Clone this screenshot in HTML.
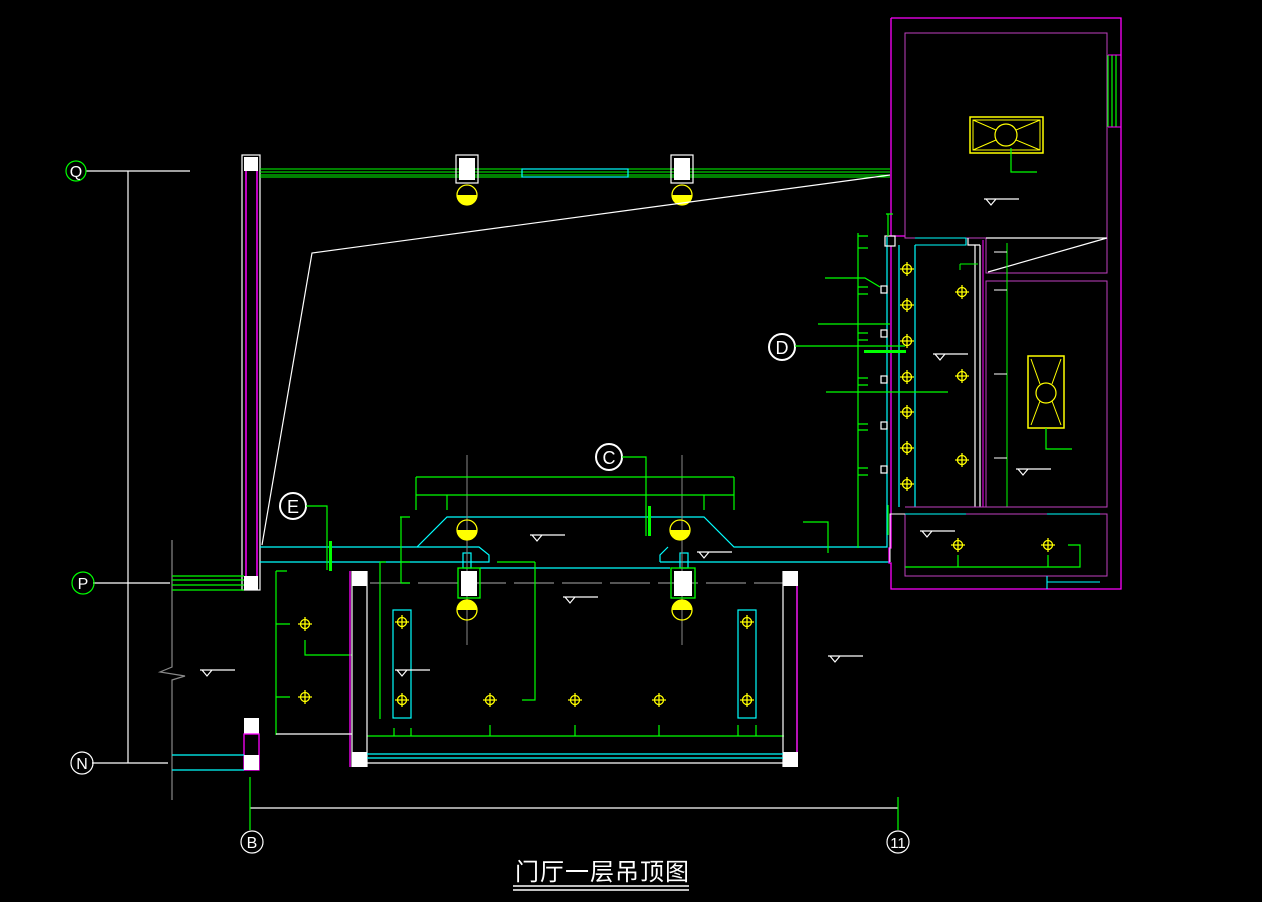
<!DOCTYPE html>
<html><head><meta charset="utf-8"><style>
html,body{margin:0;padding:0;background:#000;}
svg{display:block;}
text{font-family:"Liberation Sans","Noto Sans CJK SC",sans-serif;fill:#fff;}
</style></head><body>
<svg width="1262" height="902" viewBox="0 0 1262 902" xmlns="http://www.w3.org/2000/svg">
<rect width="1262" height="902" fill="#000"/>
<defs>
<g id="xh"><circle r="4.5" fill="none" stroke="#ff0" stroke-width="1.3"/><path d="M-7 0H7M0-7V7" stroke="#ff0" stroke-width="1.3"/></g>
<g id="hc"><circle r="10" fill="none" stroke="#ff0" stroke-width="1.3"/><path d="M-10 0A10 10 0 0 0 10 0Z" fill="#ff0"/></g>
<g id="hc2"><circle r="10" fill="none" stroke="#ff0" stroke-width="1.3"/><path d="M-10 0A10 10 0 0 1 10 0Z" fill="#ff0"/></g>
<g id="lv"><path d="M0 0H35M2 0L7 6L12 0" fill="none" stroke="#fff" stroke-width="1.2"/></g>
</defs>

<!-- axis lines -->
<g stroke="#fff" stroke-width="1.2" fill="none">
<path d="M86 171H190M128 171V763M93 583H170M92 763H168"/>
<path d="M250 808H898"/>
</g>
<path d="M172 540V667L160 672L185 676L172 680V800" stroke="#888" stroke-width="1.2" fill="none"/>
<circle cx="76" cy="171" r="10" fill="none" stroke="#0f0" stroke-width="1.2"/>
<text x="76" y="177" font-size="16" text-anchor="middle" font-family="Liberation Serif">Q</text>
<circle cx="83" cy="583" r="11" fill="none" stroke="#0f0" stroke-width="1.2"/>
<text x="83" y="589" font-size="16" text-anchor="middle" font-family="Liberation Serif">P</text>
<circle cx="82" cy="763" r="11" fill="none" stroke="#fff" stroke-width="1.2"/>
<text x="82" y="769" font-size="16" text-anchor="middle" font-family="Liberation Serif">N</text>
<circle cx="252" cy="842" r="11" fill="none" stroke="#fff" stroke-width="1.2"/>
<text x="252" y="848" font-size="16" text-anchor="middle" font-family="Liberation Serif">B</text>
<circle cx="898" cy="842" r="11" fill="none" stroke="#fff" stroke-width="1.2"/>
<text x="898" y="848" font-size="15" text-anchor="middle" font-family="Liberation Serif">11</text>
<path d="M250 777V830M898 797V830" stroke="#0f0" stroke-width="1.2"/>

<!-- left wall -->
<rect x="242" y="155" width="18" height="435" fill="none" stroke="#fff" stroke-width="1.2"/>
<path d="M246 160V590M257 160V590" stroke="#f0f" stroke-width="1.5"/>
<rect x="244" y="157" width="14" height="14" fill="#fff"/>
<rect x="244" y="576" width="14" height="14" fill="#fff"/>
<path d="M172 576H244M172 580H244M172 585H244M172 590H244" stroke="#0f0" stroke-width="1.2"/>
<rect x="244" y="718" width="15" height="16" fill="#fff"/>
<rect x="244" y="734" width="15" height="36" fill="none" stroke="#f0f" stroke-width="1.3"/>
<rect x="244" y="755" width="15" height="15" fill="#fff"/>
<path d="M172 755H244M172 770H244" stroke="#0ff" stroke-width="1.2"/>

<!-- top wall -->
<path d="M260 169H890M260 172H890M260 175H890M260 177H890" stroke="#0f0" stroke-width="1.1"/>
<rect x="522" y="169" width="106" height="8" fill="none" stroke="#0ff" stroke-width="1.2"/>
<rect x="456" y="155" width="22" height="28" fill="none" stroke="#fff" stroke-width="1.2"/>
<rect x="459" y="158" width="16" height="22" fill="#fff"/>
<rect x="671" y="155" width="22" height="28" fill="none" stroke="#fff" stroke-width="1.2"/>
<rect x="674" y="158" width="16" height="22" fill="#fff"/>
<use href="#hc" x="467" y="195"/><use href="#hc" x="682" y="195"/>

<!-- diagonal glass -->
<path d="M890 175L312 253L262 545" stroke="#fff" stroke-width="1.2" fill="none"/>

<!-- cyan beams -->
<path d="M260 547H417L447 517H704L734 547H887V237" stroke="#0ff" stroke-width="1.2" fill="none"/>
<path d="M260 562H489V555L479 547H417" stroke="#0ff" stroke-width="1.2" fill="none"/>
<path d="M660 562H890" stroke="#0ff" stroke-width="1.2" fill="none"/>
<path d="M660 562V555L668 547" stroke="#0ff" stroke-width="1.2" fill="none"/>
<path d="M480 568H670" stroke="#0ff" stroke-width="1.2"/>
<rect x="463" y="553" width="8" height="15" fill="none" stroke="#0ff" stroke-width="1.2"/>
<rect x="680" y="553" width="8" height="15" fill="none" stroke="#0ff" stroke-width="1.2"/>
<path d="M370 583H790" stroke="#888" stroke-width="1.2" stroke-dasharray="40 8"/>

<!-- center lines -->
<path d="M467 455V645M682 455V645" stroke="#888" stroke-width="1"/>

<!-- dims top -->
<g stroke="#0f0" stroke-width="1.2" fill="none">
<path d="M416 477H734M416 495H734M416 477V510M734 477V510M447 495V510M704 495V510"/>
<path d="M401 517V583M400 517H410M401 562H410M401 583H410"/>
<path d="M380 562V719M380 562H386"/>
<path d="M276 571V735M276 571H287M276 624H290M276 697H290"/>
<path d="M305 640V655H352"/>
<path d="M535 562V700H522"/>
<path d="M367 736H784"/>
<path d="M394 736V728M411 736V728M490 736V725M575 736V725M659 736V725M738 736V725M756 736V725"/>
<path d="M497 562H535"/>
</g>
<circle cx="609" cy="457" r="13" fill="#000" stroke="#fff" stroke-width="2"/>
<text x="609" y="464" font-size="18" text-anchor="middle">C</text>
<path d="M622 457H646V536" stroke="#0f0" stroke-width="1.2" fill="none"/>
<rect x="648" y="506" width="3" height="30" fill="#0f0"/>
<circle cx="293" cy="506" r="13" fill="#000" stroke="#fff" stroke-width="2"/>
<text x="293" y="513" font-size="18" text-anchor="middle">E</text>
<path d="M306 506H327V570" stroke="#0f0" stroke-width="1.2" fill="none"/>
<rect x="329" y="541" width="3" height="30" fill="#0f0"/>

<!-- lower columns -->
<rect x="458" y="568" width="22" height="30" fill="none" stroke="#0f0" stroke-width="1.3"/>
<rect x="461" y="571" width="16" height="25" fill="#fff"/>
<rect x="671" y="568" width="24" height="30" fill="none" stroke="#0f0" stroke-width="1.3"/>
<rect x="674" y="571" width="18" height="25" fill="#fff"/>
<use href="#hc" x="467" y="530"/><use href="#hc" x="680" y="530"/>
<use href="#hc2" x="467" y="610"/><use href="#hc2" x="682" y="610"/>

<!-- lower room -->
<path d="M352 571V767M367 571V767" stroke="#fff" stroke-width="1.2"/>
<path d="M350 571V767" stroke="#f0f" stroke-width="1.3"/>
<path d="M783 571V767M797 571V767" stroke="#fff" stroke-width="1.2"/>
<path d="M797 571V767" stroke="#f0f" stroke-width="1.3"/>
<rect x="352" y="571" width="15" height="15" fill="#fff"/>
<rect x="352" y="752" width="15" height="15" fill="#fff"/>
<rect x="783" y="571" width="15" height="15" fill="#fff"/>
<rect x="783" y="752" width="15" height="15" fill="#fff"/>
<path d="M367 754H783M367 758H783" stroke="#0ff" stroke-width="1.2"/>
<path d="M367 763H783M276 734H352" stroke="#fff" stroke-width="1.2"/>
<rect x="393" y="610" width="18" height="108" fill="none" stroke="#0ff" stroke-width="1.2"/>
<rect x="738" y="610" width="18" height="108" fill="none" stroke="#0ff" stroke-width="1.2"/>
<use href="#xh" x="402" y="622"/><use href="#xh" x="402" y="700"/>
<use href="#xh" x="490" y="700"/><use href="#xh" x="575" y="700"/><use href="#xh" x="659" y="700"/>
<use href="#xh" x="747" y="622"/><use href="#xh" x="747" y="700"/>
<use href="#xh" x="305" y="624"/><use href="#xh" x="305" y="697"/>

<!-- level marks -->
<use href="#lv" x="200" y="670"/><use href="#lv" x="563" y="597"/><use href="#lv" x="530" y="535"/>
<use href="#lv" x="697" y="552"/><use href="#lv" x="828" y="656"/><use href="#lv" x="395" y="670"/>
<use href="#lv" x="933" y="354"/><use href="#lv" x="984" y="199"/><use href="#lv" x="1016" y="469"/>
<use href="#lv" x="920" y="531"/>

<!-- right block -->
<path d="M891 18H1121V589H891V563L889 563V548H891V246" fill="none" stroke="#f0f" stroke-width="1.3"/>
<path d="M891 18V236H905" fill="none" stroke="#f0f" stroke-width="1.3"/>
<rect x="905" y="33" width="202" height="205" fill="none" stroke="#c040c0" stroke-width="1"/>
<path d="M1108 55V127M1112 55V127M1116 55V127" stroke="#0f0" stroke-width="1.2"/>
<path d="M1108 55H1121M1108 127H1121" stroke="#f0f" stroke-width="1"/>
<rect x="970" y="117" width="73" height="36" fill="none" stroke="#ff0" stroke-width="1.5"/>
<rect x="973" y="120" width="67" height="30" fill="none" stroke="#ff0" stroke-width="1"/>
<circle cx="1006" cy="135" r="11" fill="none" stroke="#ff0" stroke-width="1.2"/>
<path d="M973 120L996 130M973 150L996 140M1040 120L1016 130M1040 150L1016 140" stroke="#ff0" stroke-width="1"/>
<path d="M1011 148V172H1037" stroke="#0f0" stroke-width="1.2" fill="none"/>
<rect x="986" y="238" width="121" height="35" fill="none" stroke="#c040c0" stroke-width="1"/>
<path d="M986 238H1107M988 272L1107 238" stroke="#fff" stroke-width="1.2"/>
<rect x="986" y="281" width="121" height="226" fill="none" stroke="#c040c0" stroke-width="1"/>
<rect x="1028" y="356" width="36" height="72" fill="none" stroke="#ff0" stroke-width="1.5"/>
<circle cx="1046" cy="393" r="10" fill="none" stroke="#ff0" stroke-width="1.2"/>
<path d="M1031 359L1040 384M1061 359L1052 384M1031 425L1040 401M1061 425L1052 401" stroke="#ff0" stroke-width="1"/>
<path d="M1046 428V449H1072" stroke="#0f0" stroke-width="1.2" fill="none"/>
<path d="M1007 243V507" stroke="#0f0" stroke-width="1"/>
<path d="M994 252H1007M994 290H1007M994 374H1007M994 458H1007" stroke="#fff" stroke-width="1"/>
<!-- column strip -->
<path d="M899 245V507M915 245V507" stroke="#0ff" stroke-width="1.2"/>
<path d="M915 238H966M915 245H966V238M966 245V240" stroke="#0ff" stroke-width="1.1" fill="none"/>
<path d="M975 245V507M980 245V507M980 245H968V238" stroke="#fff" stroke-width="1.2" fill="none"/>
<path d="M983 240V507" stroke="#f0f" stroke-width="1"/>
<rect x="885" y="236" width="10" height="10" fill="none" stroke="#fff" stroke-width="1.2"/>
<use href="#xh" x="907" y="269"/><use href="#xh" x="907" y="305"/><use href="#xh" x="907" y="341"/>
<use href="#xh" x="907" y="377"/><use href="#xh" x="907" y="412"/><use href="#xh" x="907" y="448"/><use href="#xh" x="907" y="484"/>
<use href="#xh" x="962" y="292"/><use href="#xh" x="962" y="376"/><use href="#xh" x="962" y="460"/>
<path d="M960 264H978M960 264V270" stroke="#0f0" stroke-width="1" fill="none"/>
<!-- bottom right room -->
<path d="M905 507H1107M905 514H1107V576H905V514" stroke="#c040c0" stroke-width="1" fill="none"/>
<path d="M905 514H966M1047 514H1100M1047 582H1100M1047 576V589" stroke="#0ff" stroke-width="1.1" fill="none"/>
<use href="#xh" x="958" y="545"/><use href="#xh" x="1048" y="545"/>
<path d="M905 567H1080V545H1068M958 567V555M1048 567V555" stroke="#0f0" stroke-width="1.2" fill="none"/>
<path d="M890 562V514H905" stroke="#fff" stroke-width="1" fill="none"/>
<!-- dims around column strip -->
<g stroke="#0f0" stroke-width="1.2" fill="none">
<path d="M858 233V548M858 236H868M858 248H868M858 287H868M858 294H868M858 333H868M858 340H868M858 378H868M858 385H868M858 424H868M858 430H868M858 468H868M858 475H868"/>
<path d="M825 278H865L880 287"/>
<path d="M818 324H890"/>
<path d="M826 392H948"/>
<path d="M803 522H828V553"/>
<path d="M888 214V236M886 214H893"/>
<path d="M888 505V535"/>
</g>
<g fill="none" stroke="#fff" stroke-width="1.2">
<rect x="881" y="286" width="6" height="7"/><rect x="881" y="330" width="6" height="7"/>
<rect x="881" y="376" width="6" height="7"/><rect x="881" y="422" width="6" height="7"/><rect x="881" y="466" width="6" height="7"/>
</g>
<circle cx="782" cy="347" r="13" fill="#000" stroke="#fff" stroke-width="2"/>
<text x="782" y="354" font-size="18" text-anchor="middle">D</text>
<path d="M795 346H905" stroke="#0f0" stroke-width="1.2"/>
<rect x="864" y="350" width="42" height="3" fill="#0f0"/>

<!-- title -->
<text x="515" y="880" font-size="24" letter-spacing="1">门厅一层吊顶图</text>
<path d="M513 886H689M513 890H689" stroke="#fff" stroke-width="1.6"/>
</svg>
</body></html>
